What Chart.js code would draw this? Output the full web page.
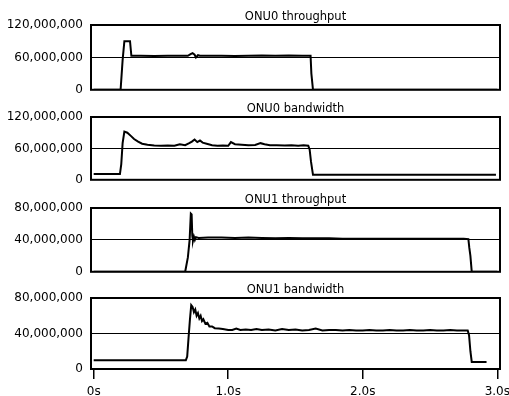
<!DOCTYPE html>
<html>
<head>
<meta charset="utf-8">
<script src="https://cdn.jsdelivr.net/npm/chart.js@4/dist/chart.umd.min.js"></script>
<style>
html,body{margin:0;padding:0;background:#fff;width:509px;height:396px;overflow:hidden}
canvas{position:absolute;left:0}
</style>
</head>
<body>
<canvas id="c0" width="509" height="105" style="top:0px"></canvas>
<canvas id="c1" width="509" height="103" style="top:92px"></canvas>
<canvas id="c2" width="509" height="104" style="top:183px"></canvas>
<canvas id="c3" width="509" height="134" style="top:273px"></canvas>
<script>
// ---- data: [time in s, value in millions] ----
const titles = ['ONU0 throughput', 'ONU0 bandwidth', 'ONU1 throughput', 'ONU1 bandwidth'];
const yMaxValues = [120000000, 120000000, 80000000, 80000000];
const xTickValues = [0, 1, 2, 3];
const xTickLabels = ['0s', '1.0s', '2.0s', '3.0s'];

const onu0Throughput = [
  [0,0],[0.20,0],[0.215,55],[0.228,90],[0.27,90],[0.28,63],[0.35,63],[0.45,62.5],[0.55,63],
  [0.65,63],[0.70,63],[0.72,66],[0.735,68],[0.75,65],[0.76,60],[0.775,64],[0.79,63],[0.85,63],
  [0.95,63],[1.05,62.5],[1.15,63],[1.25,63.5],[1.35,63],[1.45,63.5],[1.55,63],[1.612,63],
  [1.618,30],[1.63,0],[3.0,0]
];
const onu0Bandwidth = [
  [0,11],[0.195,11],[0.205,30],[0.215,70],[0.228,92],[0.25,90],[0.28,83],[0.30,78],[0.33,73],
  [0.36,69],[0.40,67],[0.45,65.5],[0.50,65],[0.55,65.5],[0.60,65],[0.64,68],[0.68,66],[0.71,70],
  [0.73,73],[0.75,77],[0.77,72],[0.79,75],[0.81,71],[0.84,69],[0.88,66],[0.92,65],[0.96,65.5],
  [1.00,65],[1.02,72],[1.05,68],[1.10,67],[1.15,66],[1.20,66.5],[1.24,70],[1.27,68],[1.31,66],
  [1.36,66],[1.42,65.5],[1.47,66],[1.52,65],[1.56,66],[1.595,65],[1.605,58],[1.615,35],
  [1.63,9.5],[2.99,9.5]
];
const onu1Throughput = [
  [0,0],[0.68,0],[0.70,18],[0.713,40],[0.722,73],[0.728,72],[0.733,45],[0.738,39],[0.745,44],
  [0.752,40],[0.76,43.5],[0.78,42.5],[0.85,43],[0.95,43],[1.05,42.5],[1.15,43],[1.25,42.5],
  [1.35,42],[1.45,42.5],[1.55,42],[1.65,42],[1.75,42],[1.85,41.5],[2.0,41.5],[2.2,41.5],
  [2.4,41.5],[2.6,41.5],[2.75,41.5],[2.785,41],[2.792,30],[2.80,20],[2.81,0],[3.0,0]
];
const onu1Bandwidth = [
  [0,10],[0.685,10],[0.695,14],[0.705,35],[0.715,55],[0.725,72],[0.735,70],[0.745,64],[0.755,67],
  [0.765,60],[0.775,63],[0.785,57],[0.795,60],[0.805,54],[0.815,56],[0.83,51],[0.845,52],
  [0.86,48],[0.88,48],[0.90,46],[0.93,45.5],[0.96,45],[1.0,44],[1.03,44],[1.06,45.5],[1.09,44],
  [1.13,44.5],[1.17,44],[1.21,45],[1.25,44],[1.30,44.5],[1.35,43.5],[1.40,45],[1.45,44],
  [1.50,44.5],[1.55,43.5],[1.60,44],[1.65,45.5],[1.70,43.5],[1.75,44],[1.80,44],[1.85,43.5],
  [1.90,44],[1.95,43.5],[2.0,43.5],[2.05,44],[2.10,43.5],[2.15,43.5],[2.2,44],[2.25,43.5],
  [2.3,43.5],[2.35,44],[2.4,43.5],[2.45,43.5],[2.5,44],[2.55,43.5],[2.6,43.5],[2.65,44],
  [2.7,43.5],[2.75,43.5],[2.78,43.5],[2.79,38],[2.80,20],[2.81,8],[2.92,8]
];
const seriesList = [onu0Throughput, onu0Bandwidth, onu1Throughput, onu1Bandwidth];

// ---- drawing ----
const FONT = 'DejaVu Sans';
const framePlugin = {
  id: 'frame',
  afterDatasetsDraw(chart) {
    const {ctx, chartArea: {left, top, right, bottom}} = chart;
    ctx.save();
    ctx.strokeStyle = '#000';
    ctx.lineWidth = 2;
    ctx.strokeRect(left, top, right - left, bottom - top);
    ctx.restore();
  }
};

['c0','c1','c2','c3'].forEach((id, i) => {
  const showX = i === 3;
  const yMax = yMaxValues[i];
  new Chart(document.getElementById(id), {
    type: 'line',
    data: {
      datasets: [{
        data: seriesList[i].map(([t, v]) => ({x: t, y: v * 1000000})),
        borderColor: '#000',
        borderWidth: 2,
        pointRadius: 0,
        tension: 0,
        fill: false
      }]
    },
    options: {
      responsive: false,
      devicePixelRatio: 1,
      animation: false,
      layout: {padding: {left: 0, right: 9, top: 0, bottom: showX ? 1.6 : 8}},
      plugins: {
        legend: {display: false},
        tooltip: {enabled: false},
        title: {
          display: true,
          text: titles[i],
          fullSize: false,
          color: '#000',
          font: {family: FONT, size: 11.5, weight: 'normal', lineHeight: 1},
          padding: {top: 11.25, bottom: 2.25}
        }
      },
      scales: {
        x: {
          type: 'linear',
          min: -0.02,
          max: 3.02,
          display: showX,
          afterBuildTicks: s => { s.ticks = xTickValues.map(v => ({value: v})); },
          afterFit: s => { s.paddingLeft = 0; s.paddingRight = 0; },
          border: {display: false},
          grid: {drawOnChartArea: false, drawTicks: true, tickLength: 10, color: '#000', lineWidth: 1.5},
          ticks: {
            padding: 6, color: '#000', maxRotation: 0, autoSkip: false,
            font: {family: FONT, size: 12},
            callback: v => xTickLabels[xTickValues.indexOf(v)]
          }
        },
        y: {
          min: 0,
          max: yMax,
          afterBuildTicks: s => { s.ticks = [0, yMax / 2, yMax].map(v => ({value: v})); },
          afterFit: s => { s.width = 91; },
          border: {display: false},
          grid: {color: '#000', lineWidth: 1, drawTicks: false},
          ticks: {
            padding: 8, color: '#000',
            font: {family: FONT, size: 12},
            callback: v => Number(v).toLocaleString('en-US')
          }
        }
      }
    },
    plugins: [framePlugin]
  });
});
</script>
</body>
</html>
